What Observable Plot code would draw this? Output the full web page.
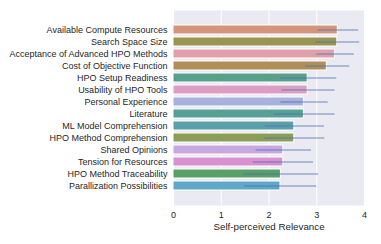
<!DOCTYPE html>
<html>
<head>
<meta charset="utf-8">
<script src="https://cdn.jsdelivr.net/npm/d3@7"></script>
<script src="https://cdn.jsdelivr.net/npm/@observablehq/plot@0.6"></script>
<style>
  html, body { margin: 0; padding: 0; background: #fff; }
  #chart { width: 381px; height: 244px; }
</style>
</head>
<body>
<div id="chart"></div>
<script>
const categories = [
  "Available Compute Resources",
  "Search Space Size",
  "Acceptance of Advanced HPO Methods",
  "Cost of Objective Function",
  "HPO Setup Readiness",
  "Usability of HPO Tools",
  "Personal Experience",
  "Literature",
  "ML Model Comprehension",
  "HPO Method Comprehension",
  "Shared Opinions",
  "Tension for Resources",
  "HPO Method Traceability",
  "Parallization Possibilities"
];
const means = [3.44, 3.43, 3.38, 3.21, 2.81, 2.81, 2.73, 2.73, 2.53, 2.53, 2.30, 2.30, 2.25, 2.24];
const errLow = [3.03, 2.98, 3.00, 2.77, 2.25, 2.27, 2.25, 2.11, 1.92, 1.90, 1.73, 1.67, 1.47, 1.49];
const errHigh = [3.88, 3.90, 3.79, 3.69, 3.42, 3.38, 3.24, 3.38, 3.16, 3.17, 2.89, 2.93, 3.04, 3.00];
const colors = ["#d4967a", "#9a9550", "#e0a0aa", "#b08e58", "#58a08a", "#dc9ec2", "#a8b0de",
                "#56a095", "#5aa0aa", "#8a9e58", "#c8a8e0", "#d890d0", "#58a068", "#60a8c8"];
const xTicks = [0, 1, 2, 3, 4];
const xLabel = "Self-perceived Relevance";

const data = categories.map((c, i) => ({cat: c, mean: means[i], lo: errLow[i], hi: errHigh[i]}));

const chart = Plot.plot({
  width: 381,
  height: 244,
  marginLeft: 173,
  marginRight: 17,
  marginTop: 10,
  marginBottom: 39,
  style: {fontFamily: "'Liberation Sans', Arial, sans-serif", fontSize: "9px", color: "#262626", background: "#fff"},
  x: {domain: [0, 4]},
  y: {domain: categories, range: [17.6, 197.4], paddingInner: 0.22, paddingOuter: 0.11},
  color: {domain: categories, range: colors},
  marks: [
    Plot.frame({fill: "#eaeaf2", stroke: null}),
    Plot.ruleX(xTicks, {stroke: "#fff", strokeWidth: 1}),
    Plot.barX(data, {y: "cat", x: "mean", fill: "cat", stroke: "#fff", strokeWidth: 1}),
    Plot.ruleY(data, {y: "cat", x1: "lo", x2: "hi", stroke: "#4c72b0", strokeWidth: 1.2, strokeOpacity: 0.8}),
    Plot.axisY({tickSize: 0, tickPadding: 6, label: null, fontSize: 9}),
    Plot.axisX({ticks: xTicks, tickSize: 0, tickPadding: 6.5, tickFormat: d => String(d), label: null, fontSize: 9}),
    Plot.text([xLabel], {text: d => d, frameAnchor: "bottom", lineAnchor: "top", dy: 18, fontSize: 9.75, fill: "#262626"})
  ]
});
document.getElementById("chart").appendChild(chart);
</script>
</body>
</html>
